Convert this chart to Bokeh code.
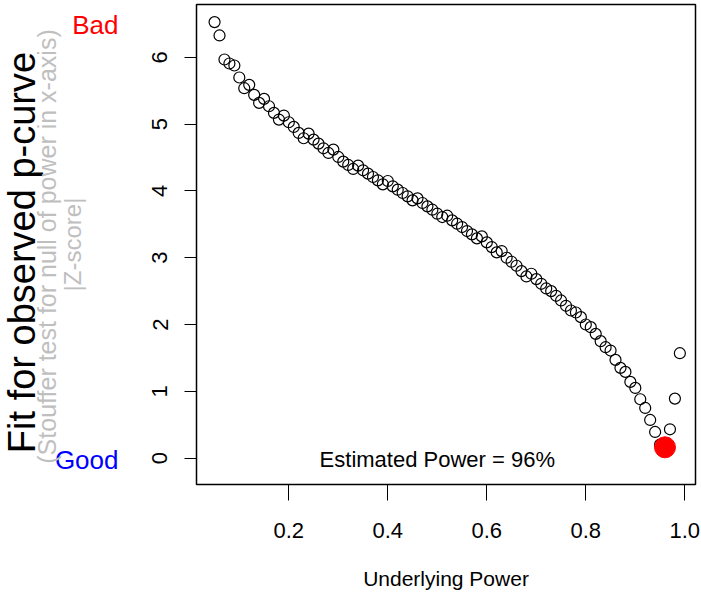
import math
from bokeh.plotting import figure
from bokeh.layouts import row
from bokeh.models import Range1d, Label, FixedTicker, NumeralTickFormatter
from bokeh.core.properties import value
from bokeh.embed import file_html
from bokeh.resources import INLINE

# ---- data ----
power = [0.05, 0.06, 0.07, 0.08, 0.09, 0.10, 0.11, 0.12, 0.13, 0.14,
         0.15, 0.16, 0.17, 0.18, 0.19, 0.20, 0.21, 0.22, 0.23, 0.24,
         0.25, 0.26, 0.27, 0.28, 0.29, 0.30, 0.31, 0.32, 0.33, 0.34,
         0.35, 0.36, 0.37, 0.38, 0.39, 0.40, 0.41, 0.42, 0.43, 0.44,
         0.45, 0.46, 0.47, 0.48, 0.49, 0.50, 0.51, 0.52, 0.53, 0.54,
         0.55, 0.56, 0.57, 0.58, 0.59, 0.60, 0.61, 0.62, 0.63, 0.64,
         0.65, 0.66, 0.67, 0.68, 0.69, 0.70, 0.71, 0.72, 0.73, 0.74,
         0.75, 0.76, 0.77, 0.78, 0.79, 0.80, 0.81, 0.82, 0.83, 0.84,
         0.85, 0.86, 0.87, 0.88, 0.89, 0.90, 0.91, 0.92, 0.93, 0.94,
         0.95, 0.96, 0.97, 0.98, 0.99]
fit = [6.53, 6.33, 5.97, 5.91, 5.88, 5.70, 5.54, 5.59, 5.44, 5.32,
       5.38, 5.27, 5.17, 5.07, 5.13, 5.03, 4.96, 4.87, 4.79, 4.86,
       4.77, 4.71, 4.64, 4.57, 4.62, 4.51, 4.44, 4.39, 4.33, 4.38,
       4.31, 4.26, 4.21, 4.16, 4.10, 4.15, 4.07, 4.02, 3.97, 3.92,
       3.86, 3.89, 3.82, 3.77, 3.72, 3.66, 3.61, 3.63, 3.56, 3.51,
       3.46, 3.40, 3.35, 3.29, 3.32, 3.23, 3.16, 3.08, 3.10, 3.00,
       2.94, 2.88, 2.80, 2.72, 2.76, 2.68, 2.61, 2.54, 2.50, 2.43,
       2.36, 2.28, 2.21, 2.18, 2.11, 2.00, 1.96, 1.86, 1.75, 1.66,
       1.61, 1.47, 1.35, 1.29, 1.14, 1.05, 0.88, 0.75, 0.57, 0.39,
       0.20, 0.16, 0.43, 0.89, 1.57]
est_power = 0.96
x_ticks = [0.2, 0.4, 0.6, 0.8, 1.0]
y_ticks = [0, 1, 2, 3, 4, 5, 6]

# ---- layout (pixels) ----
H = 606
LEFT_W = 136            # width of the left text strip
AXIS_W = 60             # y-axis panel inside the main figure
FRAME_T, FRAME_W, FRAME_H = 4, 499, 480
FRAME_B = FRAME_T + FRAME_H
X0, X1 = 0.0135, 1.0216
Y0, Y1 = -0.397, 6.794
FONT = "Liberation Sans"

p = figure(width=AXIS_W + FRAME_W + 5, height=H,
           x_range=Range1d(X0, X1), y_range=Range1d(Y0, Y1),
           output_backend="svg", toolbar_location=None,
           min_border_left=AXIS_W, min_border_right=5,
           min_border_top=FRAME_T, min_border_bottom=H - FRAME_B)
p.grid.visible = False
p.outline_line_color = "black"
p.outline_line_width = 1.5

p.xaxis.ticker = FixedTicker(ticks=x_ticks)
p.yaxis.ticker = FixedTicker(ticks=y_ticks)
p.xaxis.formatter = NumeralTickFormatter(format="0.0")
for ax in (p.xaxis, p.yaxis):
    ax.axis_line_color = None
    ax.major_tick_in = 0
    ax.minor_tick_line_color = None
    ax.major_tick_line_color = "black"
    ax.major_tick_line_width = 1
    ax.major_label_text_font = FONT
    ax.major_label_text_font_size = "22px"
    ax.major_label_text_color = "black"
p.xaxis.major_tick_out = 16
p.xaxis.major_label_standoff = 22
p.yaxis.major_tick_out = 12
p.yaxis.major_label_standoff = 17
p.yaxis.major_label_orientation = "vertical"

p.xaxis.axis_label = "Underlying Power"
p.xaxis.axis_label_text_font = FONT
p.xaxis.axis_label_text_font_size = "21px"
p.xaxis.axis_label_text_font_style = "normal"
p.xaxis.axis_label_text_color = "black"
p.xaxis.axis_label_standoff = 26

idx = power.index(est_power)
p.scatter(power, fit, size=11, marker="circle", fill_color=None,
          line_color="black", line_width=1.2)
p.scatter([est_power], [fit[idx]], size=21, marker="circle",
          fill_color="red", line_color="red")

# "Estimated Power" text inside the frame (centre at ~459 px from top)
est_y = Y1 - (459 - FRAME_T) * (Y1 - Y0) / FRAME_H
p.add_layout(Label(x=0.5, y=est_y,
                   text="Estimated Power = %d%%" % round(est_power * 100),
                   text_font=FONT, text_font_size="22px",
                   text_color="black", text_align="center",
                   text_baseline="middle"))

# ---- left strip with the y-axis titles ----
# Its frame is aligned with the main frame (rows align frames), so give it
# the same vertical borders and a pixel-like y range (value = H - page y).
q = figure(width=LEFT_W, height=H, x_range=Range1d(0, LEFT_W),
           y_range=Range1d(H - FRAME_B, H - FRAME_T), output_backend="svg",
           toolbar_location=None, min_border_left=0, min_border_right=0,
           min_border_top=FRAME_T, min_border_bottom=H - FRAME_B,
           x_axis_location=None, y_axis_location=None)
q.grid.visible = False
q.outline_line_color = None


def txt(t, x, y_mid, size, color="black", angle=0.0, align="center"):
    q.text(x=[x], y=[H - y_mid], text=[t], angle=angle,
           text_font=value(FONT), text_font_size=size, text_color=color,
           text_align=align, text_baseline="middle")


txt("Bad", 118, 24, "26px", color="red", align="right")
txt("Good", 118, 459, "26px", color="blue", align="right")
txt("Fit for observed p-curve", 21, 252, "38px", angle=math.pi / 2)
txt("(Stouffer test for null of power in x-axis)", 46, 246, "25px",
    color="#bfbfbf", angle=math.pi / 2)
txt("|Z-score|", 72, 244, "24px", color="#bfbfbf", angle=math.pi / 2)

layout = row(q, p, spacing=0)
open("out.html", "w").write(file_html(layout, INLINE))
